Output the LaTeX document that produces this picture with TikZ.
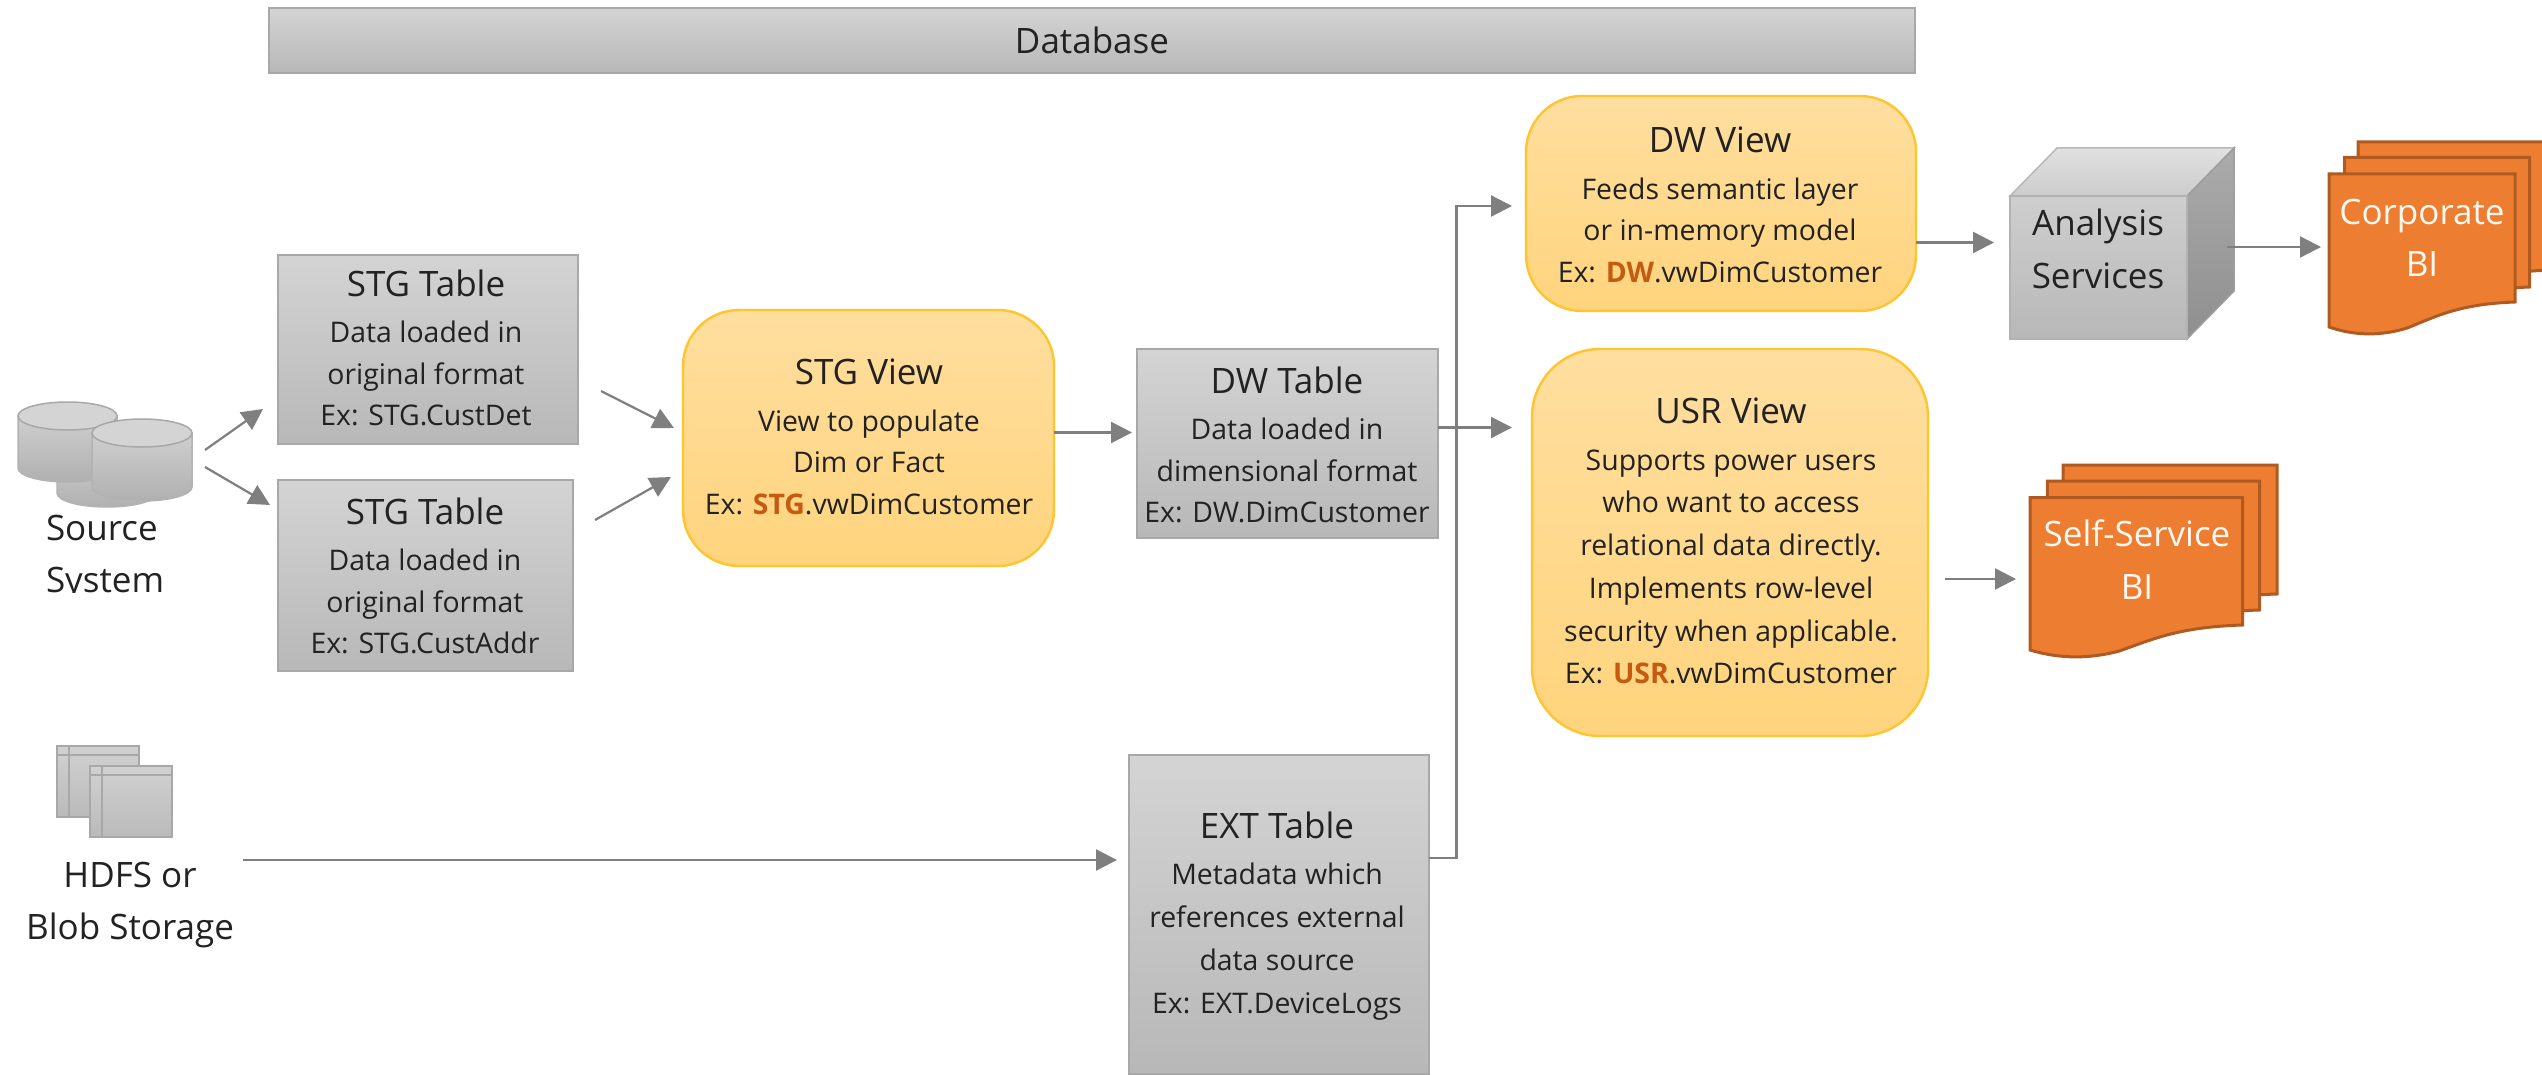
\documentclass[tikz,border=0pt]{standalone}
\usepackage{fontspec}
\setmainfont{Open Sans}
\usetikzlibrary{arrows.meta,shadings}
\definecolor{txt}{HTML}{222222}
\definecolor{grayedge}{HTML}{A8A8A8}
\definecolor{yeledge}{HTML}{FFC42E}
\definecolor{docfill}{HTML}{ED7D31}
\definecolor{docedge}{HTML}{AE5A21}
\definecolor{arrowc}{HTML}{7F7F7F}
\definecolor{exc}{HTML}{C55A11}
\newcommand\ttl{\fontsize{35}{35}\selectfont}
\newcommand\ex[1]{\textcolor{exc}{\bfseries #1}}
\newcommand\docshape[5]{%
 \draw[docstyle] (#1,#3) -- (#2,#3) -- (#2,#5)
  .. controls ({#2-0.30*(#2-#1)},{#5+2}) and ({#2-0.42*(#2-#1)},{#5+14}) .. ({#2-0.58*(#2-#1)},{#5+26})
  .. controls ({#2-0.72*(#2-#1)},{#5+34}) and ({#1+0.14*(#2-#1)},{#4+9}) .. (#1,#4) -- cycle;}
\newcommand\cyl[5]{%
 \shade[cylstyle] ({#1},{#3+#5}) -- ({#1},{#4-#5})
  .. controls ({#1},{#4-0.45*#5}) and ({#1+0.22*(#2-#1)},{#4}) .. ({0.5*(#1+#2)},{#4})
  .. controls ({#2-0.22*(#2-#1)},{#4}) and ({#2},{#4-0.45*#5}) .. ({#2},{#4-#5})
  -- ({#2},{#3+#5}) -- cycle;
 \draw[cyltop] ({#1},{#3+#5}) .. controls ({#1},{#3+0.45*#5}) and ({#1+0.22*(#2-#1)},{#3}) .. ({0.5*(#1+#2)},{#3})
  .. controls ({#2-0.22*(#2-#1)},{#3}) and ({#2},{#3+0.45*#5}) .. ({#2},{#3+#5})
  .. controls ({#2},{#3+1.55*#5}) and ({#2-0.22*(#2-#1)},{#3+2*#5}) .. ({0.5*(#1+#2)},{#3+2*#5})
  .. controls ({#1+0.22*(#2-#1)},{#3+2*#5}) and ({#1},{#3+1.55*#5}) .. ({#1},{#3+#5}) -- cycle;}
\newcommand\tableicon[5]{%
 \shade[iconstyle] (#1,#3) rectangle (#2,#4);
 \draw[iconline] (#1,#5) -- (#2,#5);
 \draw[iconline] ({#1+12},#3) -- ({#1+12},#4);}
\tikzset{
 x=1pt,y=-1pt,
 box/.style={rectangle,inner sep=0pt,outer sep=0pt},
 graybox/.style={box,draw=grayedge,line width=2pt,top color=black!17,bottom color=black!28,shading angle=0},
 yelbox/.style={box,draw=yeledge,line width=2.4pt,rounded corners=56pt,top color=yellowtop,bottom color=yellowbot},
 blank/.style={box},
 lbl/.style={inner sep=0pt,outer sep=0pt,align=center,text=txt,font=\fontsize{28.4}{41.5}\selectfont},
 lblw/.style={lbl,text=white!95!orange,font=\fontsize{35}{52.5}\selectfont},
 lblb/.style={lbl,font=\fontsize{35}{52.5}\selectfont},
 arr/.style={draw=arrowc,line width=2.2pt,-{Triangle[length=21pt,width=21pt,fill=arrowc]}},
 docstyle/.style={draw=docedge,fill=docfill,line width=3pt,line join=miter},
 cylstyle/.style={top color=black!19,bottom color=black!31,draw=black!30,line width=1.5pt},
 cyltop/.style={fill=black!17,draw=black!34,line width=1.5pt},
 iconstyle/.style={top color=black!18,bottom color=black!27,draw=grayedge,line width=2pt},
 iconline/.style={draw=grayedge,line width=2pt},
}
\definecolor{yellowtop}{HTML}{FFDE9F}
\definecolor{yellowbot}{HTML}{FFD47D}
\begin{document}
\begin{tikzpicture}
\useasboundingbox (0,0) rectangle (2542,1075);
\fill[white] (0,0) rectangle (2542,1075);

% header
\node[graybox,minimum width=1646pt,minimum height=65pt] (db) at (1092,40.5) {};
\node[lbl,font=\ttl] (dbt) at (1092,40) {Database};

% source icon
\cyl{57}{157}{440}{507}{14}
\cyl{18}{117}{402}{482}{14}
\cyl{92}{192}{419}{501}{14}
\node[blank,minimum width=174pt,minimum height=105pt] (srcicon) at (105,455) {};
\node[lblb,align=left,anchor=west] (srct) at (46,558) {Source\\System};
\fill[white] (30,593) rectangle (180,612);

% hdfs icon
\tableicon{57}{139}{746}{817}{755}
\tableicon{90}{172}{766}{837}{775}
\node[blank,minimum width=115pt,minimum height=91pt] (hdfsicon) at (114.5,791.5) {};
\node[lblb] (hdfst) at (130,905) {HDFS or\\Blob Storage};

% tables
\node[graybox,minimum width=300pt,minimum height=189pt] (stg1) at (428,349.5) {};
\node[lbl] (stg1t) at (426,348) {{\ttl STG Table}\\[5pt]Data loaded in\\original format\\Ex: STG.CustDet};
\node[graybox,minimum width=295pt,minimum height=191pt] (stg2) at (425.5,575.5) {};
\node[lbl] (stg2t) at (425,576) {{\ttl STG Table}\\[5pt]Data loaded in\\original format\\Ex: STG.CustAddr};
\node[graybox,minimum width=300.5pt,minimum height=189pt] (dw) at (1287.25,443.5) {};
\node[lbl] (dwt) at (1287,445) {{\ttl DW Table}\\[5pt]Data loaded in\\dimensional format\\Ex: DW.DimCustomer};
\node[graybox,minimum width=300pt,minimum height=319pt] (ext) at (1278.6,914.5) {};
\node[lbl,font=\fontsize{28.4}{43}\selectfont] (extt) at (1277,916) {{\ttl EXT Table}\\[3pt]Metadata which\\references external\\data source\\Ex: EXT.DeviceLogs};

% views
\node[yelbox,minimum width=371pt,minimum height=256pt] (stgv) at (868.5,438) {};
\node[lbl] (stgvt) at (869,437) {{\ttl STG View}\\[5pt]View to populate\\Dim or Fact\\Ex: \ex{STG}.vwDimCustomer};
\node[yelbox,minimum width=390pt,minimum height=215pt] (dwv) at (1721,203.5) {};
\node[lbl] (dwvt) at (1720,205) {{\ttl DW View}\\[5pt]Feeds semantic layer\\or in-memory model\\Ex: \ex{DW}.vwDimCustomer};
\node[yelbox,rounded corners=68pt,minimum width=396pt,minimum height=387pt] (usrv) at (1730,542.5) {};
\node[lbl,font=\fontsize{28.4}{42.7}\selectfont] (usrvt) at (1731,541) {{\ttl USR View}\\[4pt]Supports power users\\who want to access\\relational data directly.\\Implements row-level\\security when applicable.\\Ex: \ex{USR}.vwDimCustomer};

% cube
\fill[top color=black!12,bottom color=black!20,draw=black!28,line width=1.5pt] (2010,196) -- (2057,148) -- (2234,148) -- (2187,196) -- cycle;
\shade[top color=black!33,bottom color=black!44,draw=black!38,line width=1.5pt] (2187,196) -- (2234,148) -- (2234,291) -- (2187,339) -- cycle;
\node[graybox,draw=black!30,top color=black!19,bottom color=black!28,minimum width=177pt,minimum height=143pt] (cube) at (2098.5,267.5) {};
\node[lblb] (cubet) at (2098,249) {Analysis\\Services};

% documents
\docshape{2358}{2550}{142}{296}{270}
\docshape{2344.5}{2529.5}{157.5}{312}{287}
\docshape{2329}{2515}{174}{327}{302}
\node[blank,minimum width=186pt,minimum height=160pt] (corp) at (2422,254) {};
\node[lblw] (corpt) at (2422,238) {Corporate\\BI};
\docshape{2063}{2277}{465}{620}{594}
\docshape{2047.4}{2259.5}{481}{636}{610}
\docshape{2030}{2242.6}{497.5}{650}{625}
\node[blank,minimum width=213pt,minimum height=160pt] (self) at (2136.5,577) {};
\node[lblw] (selft) at (2137,559.5) {Self-Service\\BI};

% connectors
\coordinate (bus) at (1456.4,500);
\draw[arr] ([shift={(100,-5)}]srcicon.center) -- ([shift={(-15,59.5)}]stg1.west);
\draw[arr] ([shift={(100,12)}]srcicon.center) -- ([shift={(-8,-70.5)}]stg2.west);
\draw[arr] ([shift={(23,41.5)}]stg1.east) -- ([shift={(-9,-10)}]stgv.west);
\draw[arr] ([shift={(22,-55.5)}]stg2.east) -- ([shift={(-12,39)}]stgv.west);
\draw[arr] ([shift={(0,-5.5)}]stgv.east) -- ([shift={(-5,-11)}]dw.west);
\draw[arr] ([shift={(0,-16)}]dw.east) -- ([shift={(-20,-115)}]usrv.west);
\draw[arr] ([shift={(0,-56.5)}]ext.east) -| (bus) |- ([shift={(-14,2.5)}]dwv.west);
\draw[arr] ([shift={(128.5,68.5)}]hdfsicon.center) -- ([shift={(-11.6,-54.5)}]ext.west);
\draw[arr] ([shift={(0,39)}]dwv.east) -- ([shift={(-16,-25)}]cube.west);
\draw[arr] ([shift={(40,-20.5)}]cube.east) -- ([shift={(-8,-7)}]corp.west);
\draw[arr] ([shift={(17,36.5)}]usrv.east) -- ([shift={(-14,2)}]self.west);
\end{tikzpicture}
\end{document}
